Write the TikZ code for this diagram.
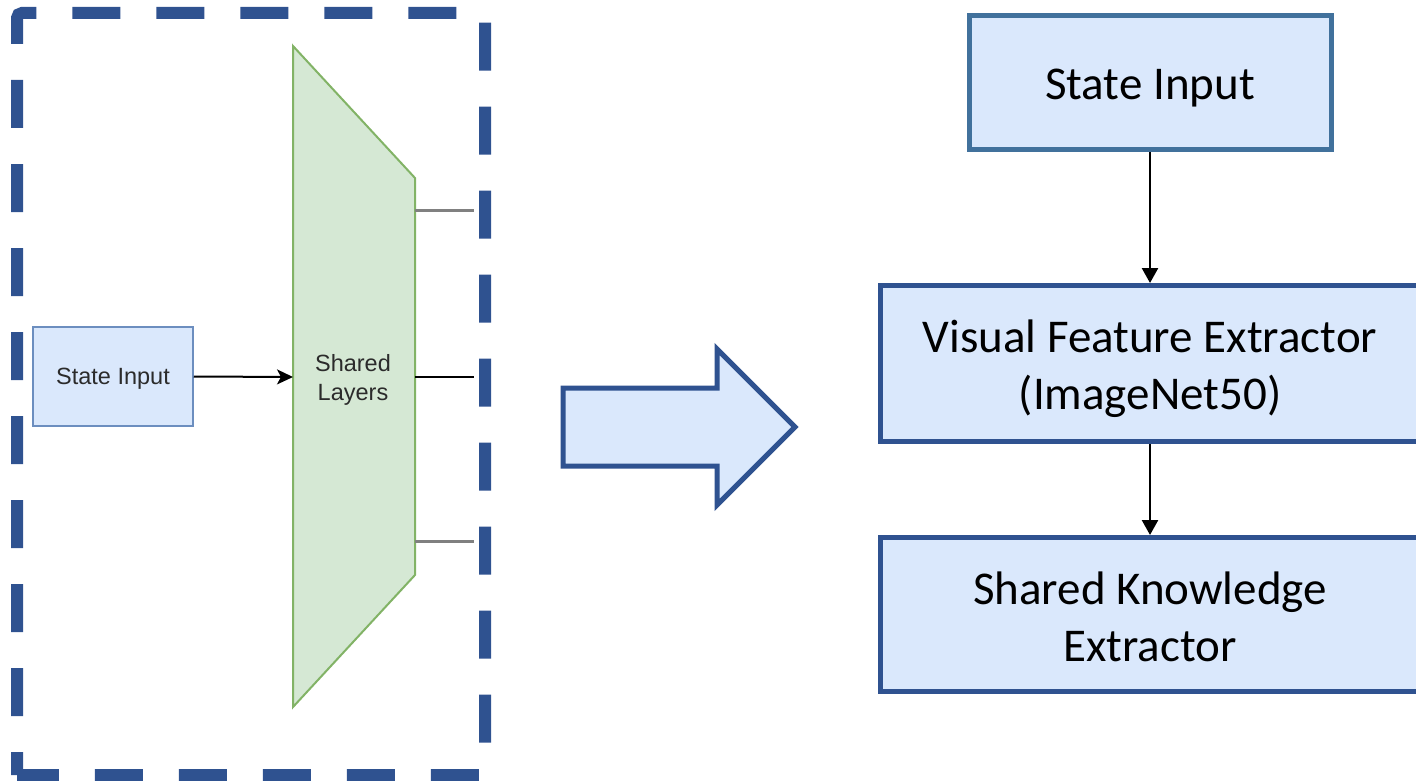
\documentclass[tikz,border=0pt]{standalone}
\usepackage{fontspec}
\setmainfont{Carlito}
\newfontfamily\drawiofont{Liberation Sans}
\usetikzlibrary{arrows.meta}

\definecolor{frameblue}{HTML}{2F5290}
\definecolor{topblue}{HTML}{41719C}
\definecolor{paleblue}{HTML}{DAE8FC}
\definecolor{smallstroke}{HTML}{6C8EBF}
\definecolor{palegreen}{HTML}{D5E8D4}
\definecolor{greenstroke}{HTML}{82B366}
\definecolor{linkgray}{HTML}{808080}
\definecolor{labelgray}{HTML}{2B2B2B}

\tikzset{
  outerframe/.style={draw=frameblue, line width=12pt, dash pattern=on 48pt off 36pt,
    dash phase=25pt, rounded corners=5pt, line cap=butt},
  smallbox/.style={draw=smallstroke, fill=paleblue, line width=1.5pt,
    minimum width=160pt, minimum height=99pt, inner sep=0pt},
  smalltext/.style={align=center, inner sep=0pt,
    font=\drawiofont\fontsize{23.5}{29}\selectfont, text=labelgray},
  bigbox/.style={draw=frameblue, fill=paleblue, line width=5pt, inner sep=0pt},
  bigtext/.style={align=center, inner sep=0pt,
    font=\fontsize{47}{57}\selectfont, text=black},
  thinarrow/.style={draw=black, line width=2pt,
    -{Stealth[length=16pt, width=15pt, inset=4pt]}},
  downarrow/.style={draw=black, line width=2.5pt,
    -{Triangle[length=15pt, width=16pt]}},
  graylink/.style={draw=linkgray, line width=3pt},
  blacklink/.style={draw=black, line width=2pt},
}

\begin{document}
\begin{tikzpicture}[x=1pt, y=-1pt]
\useasboundingbox (0,0) rectangle (1416,781);
\clip (0,0) rectangle (1416,781);

% dashed frame around the shared network
\draw[outerframe] (17,775) -- (17,13) -- (485,13) -- (485,775) -- (17,775);

% shared layers (trapezoid)
\coordinate (tA) at (293,46);
\coordinate (tB) at (415,178);
\coordinate (tC) at (415,575);
\coordinate (tD) at (293,707);
\draw[draw=greenstroke, fill=palegreen, line width=2pt, line join=miter]
  (tA) -- (tB) -- (tC) -- (tD) -- cycle;
\node[smalltext] (shared) at (353,379.5) {Shared\\Layers};

% input block
\node[smallbox] (sin) at (113,376.5) {};
\node[smalltext] (sinT) at ([yshift=-2.5pt]sin.center) {State Input};
\coordinate (shIn) at (293,377);
\draw[thinarrow] (sin.east) -- (shIn);

% outputs of the shared layers
\coordinate (o1a) at (415,210);  \coordinate (o1b) at (474,210);
\coordinate (o2a) at (415,377);  \coordinate (o2b) at (474,377);
\coordinate (o3a) at (415,541);  \coordinate (o3b) at (474,541);
\draw[graylink] (o1a) -- (o1b);
\draw[blacklink] (o2a) -- (o2b);
\draw[graylink] (o3a) -- (o3b);

% block arrow
\draw[draw=frameblue, fill=paleblue, line width=5pt, line join=miter]
  (563,388) -- (717,388) -- (717,349) -- (795,427) -- (717,505) -- (717,466)
  -- (563,466) -- cycle;

% pipeline on the right
\node[bigbox, draw=topblue, minimum width=362pt, minimum height=134pt]
  (top) at (1150,83) {};
\node[bigbox, minimum width=539pt, minimum height=156pt]
  (mid) at (1150,363.5) {};
\node[bigbox, minimum width=539pt, minimum height=154pt]
  (bot) at (1150,614.5) {};

\node[bigtext] (topT) at ([yshift=-5pt]top.center) {State Input};
\node[bigtext] (midT) at ([yshift=-5pt]mid.center) {Visual Feature Extractor\\(ImageNet50)};
\node[bigtext] (botT) at ([yshift=-2pt]bot.center) {Shared Knowledge\\Extractor};

\draw[downarrow] (top.south) -- (mid.north);
\draw[downarrow] (mid.south) -- (bot.north);
\end{tikzpicture}
\end{document}
